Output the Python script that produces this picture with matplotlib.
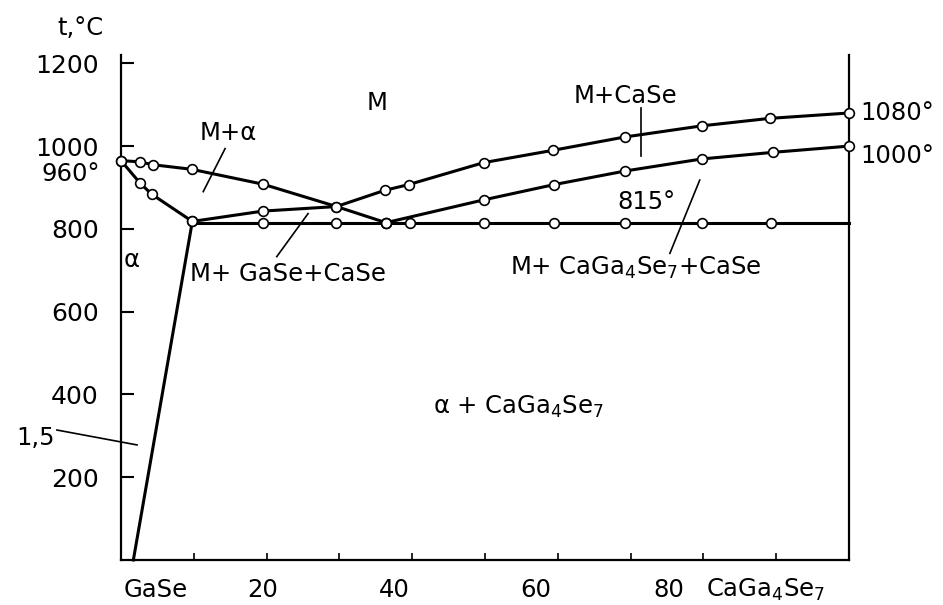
import matplotlib
matplotlib.use("Agg")
import matplotlib.pyplot as plt

plt.rcParams['font.family'] = ['DejaVu Sans']
plt.rcParams['mathtext.fontset'] = 'dejavusans'

# ---- data (composition mol.% CaGa4Se7, temperature °C) ----
liq_alpha_x = [0, 2.6, 4.4, 9.7, 19.5, 29.6, 36.4]
liq_alpha_t = [965, 962, 955, 944, 908, 854, 815]

sol_alpha_x = [0, 2.6, 4.2, 9.8]
sol_alpha_t = [965, 911, 884, 818]

solvus_x = [9.8, 1.7]
solvus_t = [818, 0]

case_liq_x = [9.8, 19.5, 29.6, 36.2, 39.5, 49.8, 59.4, 69.2, 79.8, 89.1, 100]
case_liq_t = [818, 843, 854, 893, 907, 960, 990, 1022, 1049, 1067, 1080]

upper3_x = [36.4, 49.8, 59.5, 69.3, 79.8, 89.6, 100]
upper3_t = [815, 870, 907, 940, 969, 985, 1000]

eut_line_x = [9.8, 100]
eut_line_t = [815, 815]
eut_pts_x = [19.5, 29.6, 36.4, 39.7, 49.8, 59.5, 69.3, 79.8, 89.3]
eut_pts_t = [815] * len(eut_pts_x)

y_ticks = [200, 400, 600, 800, 1000, 1200]
x_ticks = [10, 20, 30, 40, 50, 60, 70, 80, 90]
x_labels = ["GaSe", "20", "40", "60", "80", r"CaGa$_4$Se$_7$"]
x_label_pos = [4.8, 19.5, 37.5, 57.0, 75.3, 88.6]

fig = plt.figure(figsize=(9.43, 6.05), dpi=100)
ax = fig.add_axes([0.1283, 0.0744, 0.772, 0.8346])
ax.set_xlim(0, 100)
ax.set_ylim(0, 1220)

LW = 2.2
mk = dict(marker='o', markersize=7, markerfacecolor='white',
          markeredgecolor='black', markeredgewidth=1.2)

ax.plot(liq_alpha_x, liq_alpha_t, color='black', lw=LW, clip_on=False, zorder=3, **mk)
ax.plot(sol_alpha_x, sol_alpha_t, color='black', lw=LW, clip_on=False, zorder=3, **mk)
ax.plot(solvus_x, solvus_t, color='black', lw=LW, clip_on=False, zorder=2)
ax.plot(case_liq_x, case_liq_t, color='black', lw=LW, clip_on=False, zorder=3, **mk)
ax.plot(upper3_x, upper3_t, color='black', lw=LW, clip_on=False, zorder=3, **mk)
ax.plot(eut_line_x, eut_line_t, color='black', lw=LW, clip_on=False, zorder=2)
ax.plot(eut_pts_x, eut_pts_t, linestyle='none', clip_on=False, zorder=4, **mk)

# leader lines
LL = 1.2
ax.plot([14.3, 11.3], [994, 890], color='black', lw=LL)
ax.plot([25.7, 21.4], [837, 733], color='black', lw=LL)
ax.plot([71.4, 71.4], [1091, 976], color='black', lw=LL)
ax.plot([79.5, 75.4], [918, 741], color='black', lw=LL)
ax.plot([-8.8, 2.2], [314, 278], color='black', lw=LL, clip_on=False)

# axes styling
for s in ['left', 'right', 'bottom']:
    ax.spines[s].set_linewidth(1.6)
ax.spines['top'].set_visible(False)
ax.set_yticks(y_ticks)
ax.set_yticklabels([str(v) for v in y_ticks])
ax.set_xticks(x_ticks)
ax.tick_params(axis='y', direction='in', length=9, width=1.5, pad=16, labelsize=18)
ax.tick_params(axis='x', direction='in', length=5, width=1.2, labelbottom=False)

FS = 17.5
for lab, xp in zip(x_labels, x_label_pos):
    ax.text(xp, -72, lab, ha='center', va='center', fontsize=FS, clip_on=False)

ax.text(-5.6, 1285, "t,°C", ha='center', va='center', fontsize=FS)
ax.text(-2.9, 932, "960°", ha='right', va='center', fontsize=FS)
ax.text(-9.1, 295, "1,5", ha='right', va='center', fontsize=FS)
ax.text(101.5, 1080, "1080°", ha='left', va='center', fontsize=FS)
ax.text(101.5, 975, "1000°", ha='left', va='center', fontsize=FS)
ax.text(35.2, 1104, "M", ha='center', va='center', fontsize=FS)
ax.text(14.8, 1031, "M+α", ha='center', va='center', fontsize=FS)
ax.text(69.3, 1121, "M+CaSe", ha='center', va='center', fontsize=FS)
ax.text(72.2, 864, "815°", ha='center', va='center', fontsize=FS)
ax.text(1.4, 726, "α", ha='center', va='center', fontsize=FS)
ax.text(9.5, 692, "M+ GaSe+CaSe", ha='left', va='center', fontsize=FS)
ax.text(53.4, 705, r"M+ CaGa$_4$Se$_7$+CaSe", ha='left', va='center', fontsize=FS)
ax.text(54.6, 370, r"α + CaGa$_4$Se$_7$", ha='center', va='center', fontsize=FS)

fig.savefig("out.png", dpi=100)
